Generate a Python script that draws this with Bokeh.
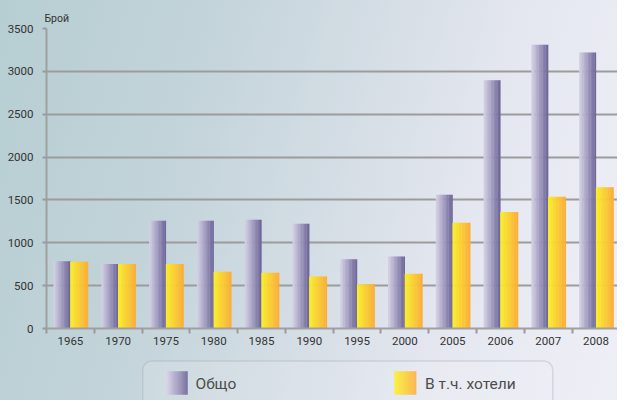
from bokeh.plotting import figure
from bokeh.models import Range1d, FixedTicker, ColumnDataSource, BoxAnnotation
from bokeh.core.properties import value
from bokeh.transform import dodge
from bokeh.layouts import column
from bokeh.embed import file_html
from bokeh.resources import INLINE

# ---- data ----
years = ["1965", "1970", "1975", "1980", "1985", "1990", "1995", "2000",
         "2005", "2006", "2007", "2008"]
total = [785, 752, 1257, 1257, 1268, 1223, 808, 841, 1560, 2895, 3310, 3220]
hotels = [780, 752, 752, 662, 651, 606, 516, 640, 1234, 1358, 1537, 1649]
series_names = ["Общо", "В т.ч. хотели"]
y_ticks = [0, 500, 1000, 1500, 2000, 2500, 3000, 3500]
y_title = "Брой"

FONT = "Roboto"
TXT = "#333333"

def lerp_color(c1, c2, t):
    a = [int(c1[i:i + 2], 16) for i in (1, 3, 5)]
    b = [int(c2[i:i + 2], 16) for i in (1, 3, 5)]
    return "#%02x%02x%02x" % tuple(round(a[k] + (b[k] - a[k]) * t) for k in range(3))

def grad(c1, c2, n):
    return [lerp_color(c1, c2, (k + 0.5) / n) for k in range(n)]

N = 12
purple = grad("#d8d4e6", "#6a6297", N)
yellow = grad("#f9f02a", "#fcac38", N)

src = ColumnDataSource(dict(xi=list(range(len(years))), total=total, hotels=hotels))

W, H1, H2 = 617, 355, 45

p = figure(width=W, height=H1, output_backend="svg", toolbar_location=None,
           x_range=Range1d(-0.5, 11.45), y_range=Range1d(0, 3500),
           min_border_left=46, min_border_top=28, min_border_bottom=27,
           min_border_right=0)
p.background_fill_alpha = 0
p.border_fill_alpha = 0
p.outline_line_color = None

p.title.text = y_title
p.title.align = "left"
p.title.offset = -2
p.title.standoff = 8
p.title.text_font = FONT
p.title.text_font_size = "10.5px"
p.title.text_font_style = "normal"
p.title.text_color = TXT

W_P = 0.35
W_Y = 0.37
for k in range(N):
    sw = W_P / N
    p.vbar(x=dodge("xi", -W_P + (k + 0.5) * sw, range=p.x_range), top="total",
           width=sw * 1.2, bottom=0, source=src, fill_color=purple[k], line_color=None)
for k in range(N):
    sw = W_Y / N
    p.vbar(x=dodge("xi", (k + 0.5) * sw, range=p.x_range), top="hotels",
           width=sw * 1.2, bottom=0, source=src, fill_color=yellow[k], line_color=None)

# x axis: labels at category centres, ticks at category boundaries
xa = p.xaxis[0]
xa.ticker = FixedTicker(ticks=list(range(len(years))),
                        minor_ticks=[i - 0.5 for i in range(len(years) + 1)])
xa.major_label_overrides = {i: y for i, y in enumerate(years)}
xa.major_tick_out = 0
xa.major_tick_in = 0
xa.minor_tick_out = 5
xa.minor_tick_in = 0
xa.minor_tick_line_color = "#9a9a9a"
xa.minor_tick_line_width = 2
xa.axis_line_color = "#a0a0a0"
xa.axis_line_width = 2
xa.major_label_text_font = FONT
xa.major_label_text_font_size = "11.5px"
xa.major_label_text_color = TXT
xa.major_label_standoff = 3

ya = p.yaxis[0]
ya.ticker = FixedTicker(ticks=y_ticks)
ya.major_tick_out = 4
ya.major_tick_in = 0
ya.minor_tick_out = 0
ya.minor_tick_in = 0
ya.major_tick_line_color = "#9a9a9a"
ya.major_tick_line_width = 2
ya.axis_line_color = "#a0a0a0"
ya.axis_line_width = 2
ya.major_label_text_font = FONT
ya.major_label_text_font_size = "11.5px"
ya.major_label_text_color = TXT
ya.major_label_standoff = 9

p.xgrid.grid_line_color = None
p.ygrid.ticker = FixedTicker(ticks=y_ticks)
p.ygrid.grid_line_color = "#9c9c9c"
p.ygrid.grid_line_width = 2

# ---- legend panel ----
p2 = figure(width=W, height=H2, output_backend="svg", toolbar_location=None,
            x_range=Range1d(0, W), y_range=Range1d(H2, 0),
            min_border=0, min_border_left=0, min_border_right=0,
            min_border_top=0, min_border_bottom=0)
p2.axis.visible = False
p2.grid.visible = False
p2.outline_line_color = None
p2.background_fill_alpha = 0
p2.border_fill_alpha = 0

p2.add_layout(BoxAnnotation(left=104, right=547, top=5.5, bottom=80,
                            fill_color="#ffffff", fill_alpha=0.12,
                            line_color="#9ca2ac", line_width=1.5, border_radius=9))

def swatch(x0, cols):
    n = len(cols)
    w = 23.5 / n
    xs = [x0 + (k + 0.5) * w for k in range(n)]
    p2.rect(x=xs, y=[27.5] * n, width=w * 1.2, height=23.5, fill_color=cols, line_color=None)

swatch(129, purple)
swatch(376, yellow)
p2.text(x=[161, 409], y=[28, 28], text=series_names, text_font=value(FONT),
        text_font_size="15.5px", text_color=TXT, text_baseline="middle")

layout = column(p, p2, spacing=0)
layout.styles = {"background": "linear-gradient(105deg, #b6ced2 0%, #c3d4da 30%, #d6dee6 55%, #e6e8f1 75%, #eeeff6 100%)"}

open("out.html", "w").write(file_html(layout, INLINE))
